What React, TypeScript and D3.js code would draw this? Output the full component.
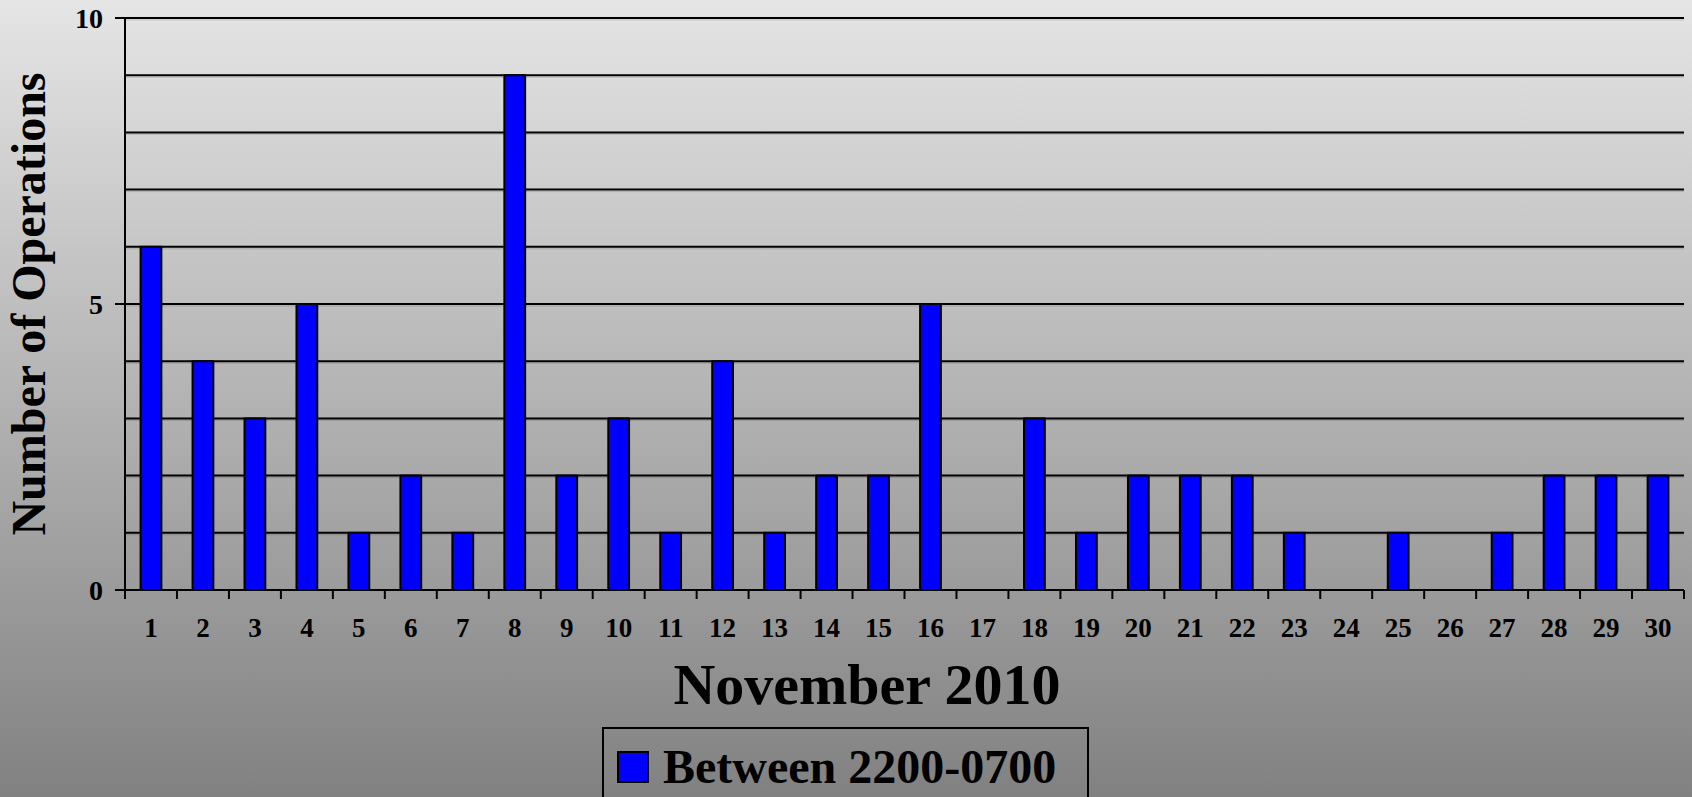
import React from "react";
import * as d3 from "d3";

const days: string[] = [
  "1","2","3","4","5","6","7","8","9","10","11","12","13","14","15",
  "16","17","18","19","20","21","22","23","24","25","26","27","28","29","30",
];
const operations: number[] = [
  6, 4, 3, 5, 1, 2, 1, 9, 2, 3, 1, 4, 1, 2, 2,
  5, 0, 3, 1, 2, 2, 2, 1, 0, 1, 0, 1, 2, 2, 2,
];
const yTickLabels: number[] = [0, 5, 10];
const gridValues: number[] = [1, 2, 3, 4, 5, 6, 7, 8, 9, 10];
const seriesName = "Between 2200-0700";
const xTitle = "November 2010";
const yTitle = "Number of Operations";

const W = 1692;
const H = 797;
const FONT = "'Liberation Serif', 'Times New Roman', serif";

export default function App() {
  const left = 125;
  const right = 1684;
  const top = 18;
  const bottom = 590;

  const x = d3.scaleBand<string>().domain(days).range([left, right]).padding(0);
  const y = d3.scaleLinear().domain([0, 10]).range([bottom, top]);
  const bw = x.bandwidth();
  const barW = bw * 0.4;

  const boundaries = d3.range(days.length + 1).map((i) => left + i * bw);

  return (
    <div style={{ position: "absolute", left: 0, top: 0, width: W, height: H, overflow: "hidden" }}>
      <svg width={W} height={H} style={{ display: "block" }}>
        <defs>
          <linearGradient id="bg" x1="0" y1="0" x2="0" y2="1">
            <stop offset="0%" stopColor="#e5e5e5" />
            <stop offset="100%" stopColor="#818181" />
          </linearGradient>
        </defs>
        <rect x={0} y={0} width={W} height={H} fill="url(#bg)" />

        {/* gridlines */}
        {gridValues.map((v) => (
          <g key={"g" + v}>
            <line x1={left} x2={right} y1={y(v) + 2} y2={y(v) + 2} stroke="#000" strokeOpacity={0.15} strokeWidth={1} />
            <line x1={left} x2={right} y1={y(v)} y2={y(v)} stroke="#000" strokeWidth={2} />
          </g>
        ))}

        {/* bars */}
        {operations.map((v, i) =>
          v > 0 ? (
            <rect
              key={"b" + i}
              x={(x(days[i]) as number) + bw / 2 - barW / 2}
              y={y(v)}
              width={barW}
              height={y(0) - y(v)}
              fill="#0000ff"
              stroke="#000"
              strokeWidth={2}
            />
          ) : null
        )}

        {/* axes */}
        <line x1={left} x2={left} y1={top} y2={bottom + 9} stroke="#000" strokeWidth={2} />
        <line x1={left} x2={right} y1={bottom} y2={bottom} stroke="#000" strokeWidth={2} />
        {boundaries.map((bx, i) => (
          <line key={"t" + i} x1={bx} x2={bx} y1={bottom} y2={bottom + 9} stroke="#000" strokeWidth={2} />
        ))}
        {yTickLabels.map((v) => (
          <g key={"yl" + v}>
            <line x1={left - 10} x2={left} y1={y(v)} y2={y(v)} stroke="#000" strokeWidth={2} />
            <text
              x={103}
              y={y(v) + 10}
              textAnchor="end"
              fontFamily={FONT}
              fontWeight="bold"
              fontSize={28}
              fill="#000"
            >
              {v}
            </text>
          </g>
        ))}

        {/* x tick labels */}
        {days.map((d) => (
          <text
            key={"xl" + d}
            x={(x(d) as number) + bw / 2}
            y={637}
            textAnchor="middle"
            fontFamily={FONT}
            fontWeight="bold"
            fontSize={27}
            fill="#000"
          >
            {d}
          </text>
        ))}

        {/* axis titles */}
        <text
          transform={`translate(45,304) rotate(-90)`}
          textAnchor="middle"
          fontFamily={FONT}
          fontWeight="bold"
          fontSize={48}
          fill="#000"
        >
          {yTitle}
        </text>
        <text
          x={867}
          y={704}
          textAnchor="middle"
          fontFamily={FONT}
          fontWeight="bold"
          fontSize={58}
          fill="#000"
        >
          {xTitle}
        </text>

        {/* legend */}
        <rect x={603} y={728} width={485} height={90} fill="none" stroke="#000" strokeWidth={2} />
        <rect x={618} y={752} width={30} height={30} fill="#0000ff" stroke="#000" strokeWidth={2} />
        <text x={663} y={783} fontFamily={FONT} fontWeight="bold" fontSize={48} fill="#000">
          {seriesName}
        </text>
      </svg>
    </div>
  );
}
